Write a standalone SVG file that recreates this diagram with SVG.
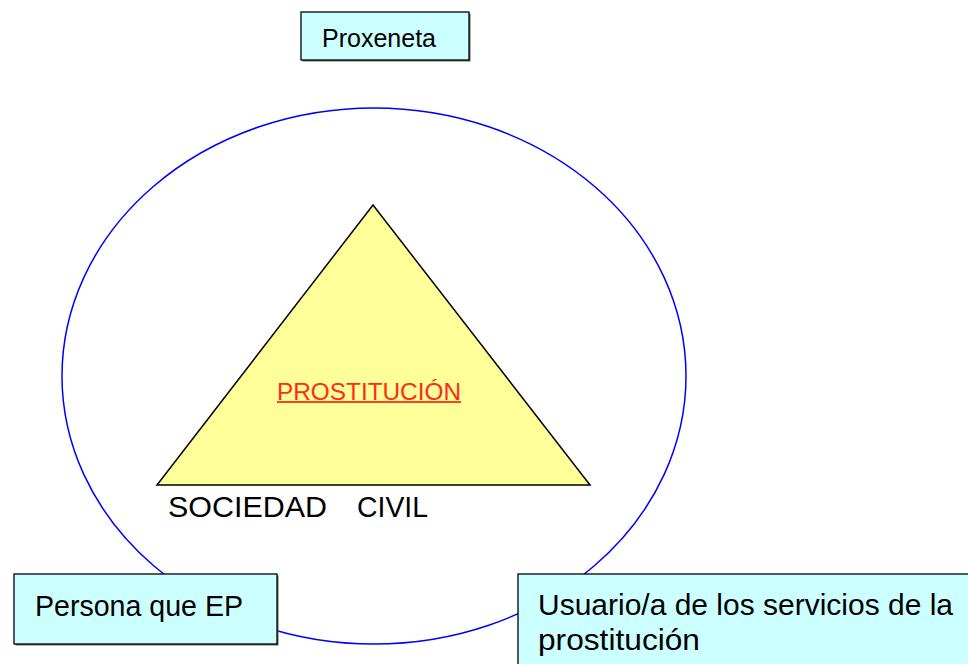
<svg xmlns="http://www.w3.org/2000/svg" width="968" height="664" viewBox="0 0 968 664">
<style>
.box{fill:#ccffff;stroke:#000;stroke-width:1.3}
.sh{fill:#666}
.t{font-family:"Liberation Sans",Arial,sans-serif;fill:#000}
</style>
<rect width="968" height="664" fill="#fff"/>
<g id="connectors">
<ellipse cx="374" cy="376" rx="312" ry="268" fill="none" stroke="#0000ff" stroke-width="1.5"/>
</g>
<g id="triangle">
<polygon points="373,205 157,485 590,485" fill="#ffff99" stroke="#000" stroke-width="1.5"/>
<text class="t" x="277" y="400" font-size="24" textLength="184" lengthAdjust="spacingAndGlyphs" style="fill:#ff2a1a">PROSTITUCIÓN</text>
<line x1="277" y1="402" x2="461" y2="402" stroke="#ff0000" stroke-width="1.6"/>
</g>
<g id="sociedad">
<text class="t" x="168" y="517" font-size="29" textLength="159" lengthAdjust="spacingAndGlyphs">SOCIEDAD</text>
<text class="t" x="357" y="517" font-size="29" textLength="71" lengthAdjust="spacingAndGlyphs">CIVIL</text>
</g>
<g id="proxeneta">
<rect class="sh" x="302.5" y="13.5" width="168" height="48"/>
<rect class="box" x="301" y="12" width="168" height="48"/>
<text class="t" x="322" y="47" font-size="25" textLength="114" lengthAdjust="spacingAndGlyphs">Proxeneta</text>
</g>
<g id="persona">
<rect class="sh" x="15.5" y="575.5" width="263" height="70"/>
<rect class="box" x="14" y="574" width="263" height="70"/>
<text class="t" x="35" y="616" font-size="30" textLength="208" lengthAdjust="spacingAndGlyphs">Persona que EP</text>
</g>
<g id="usuario">
<rect class="sh" x="519.5" y="575.5" width="460" height="100"/>
<rect class="box" x="518" y="574" width="460" height="100"/>
<text class="t" x="538" y="615" font-size="30" textLength="415" lengthAdjust="spacingAndGlyphs">Usuario/a de los servicios de la</text>
<text class="t" x="538" y="650" font-size="30" textLength="162" lengthAdjust="spacingAndGlyphs">prostitución</text>
</g>
</svg>
